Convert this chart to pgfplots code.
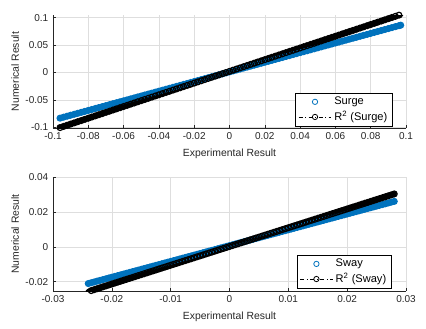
\documentclass[border=0pt]{standalone}
\usepackage{fontspec}
\setmainfont{Liberation Sans}
\usepackage{pgfplots}
\usepackage{pgfplotstable}
\pgfplotsset{compat=1.18}
\definecolor{mblue}{rgb}{0,0.447,0.741}
\definecolor{mgray}{rgb}{0.15,0.15,0.15}
\pgfplotstableread{
x b k
-0.096 -0.08348 -0.10072
-0.094 -0.08172 -0.09858
-0.092 -0.07996 -0.09644
-0.090 -0.0782 -0.0943
-0.088 -0.07644 -0.09216
-0.086 -0.07468 -0.09002
-0.084 -0.07292 -0.08788
-0.082 -0.07116 -0.08574
-0.080 -0.0694 -0.0836
-0.078 -0.06764 -0.08146
-0.076 -0.06588 -0.07932
-0.074 -0.06412 -0.07718
-0.072 -0.06236 -0.07504
-0.070 -0.0606 -0.0729
-0.068 -0.05884 -0.07076
-0.066 -0.05708 -0.06862
-0.064 -0.05532 -0.06648
-0.062 -0.05356 -0.06434
-0.060 -0.0518 -0.0622
-0.058 -0.05004 -0.06006
-0.056 -0.04828 -0.05792
-0.054 -0.04652 -0.05578
-0.052 -0.04476 -0.05364
-0.050 -0.043 -0.0515
-0.048 -0.04124 -0.04936
-0.046 -0.03948 -0.04722
-0.044 -0.03772 -0.04508
-0.042 -0.03596 -0.04294
-0.040 -0.0342 -0.0408
-0.038 -0.03244 -0.03866
-0.036 -0.03068 -0.03652
-0.034 -0.02892 -0.03438
-0.032 -0.02716 -0.03224
-0.030 -0.0254 -0.0301
-0.028 -0.02364 -0.02796
-0.026 -0.02188 -0.02582
-0.024 -0.02012 -0.02368
-0.022 -0.01836 -0.02154
-0.020 -0.0166 -0.0194
-0.018 -0.01484 -0.01726
-0.016 -0.01308 -0.01512
-0.014 -0.01132 -0.01298
-0.012 -0.00956 -0.01084
-0.010 -0.0078 -0.0087
-0.008 -0.00604 -0.00656
-0.006 -0.00428 -0.00442
-0.004 -0.00252 -0.00228
-0.002 -0.00076 -0.00014
0 0.001 0.002
0.002 0.00276 0.00414
0.004 0.00452 0.00628
0.006 0.00628 0.00842
0.008 0.00804 0.01056
0.010 0.0098 0.0127
0.012 0.01156 0.01484
0.014 0.01332 0.01698
0.016 0.01508 0.01912
0.018 0.01684 0.02126
0.020 0.0186 0.0234
0.022 0.02036 0.02554
0.024 0.02212 0.02768
0.026 0.02388 0.02982
0.028 0.02564 0.03196
0.030 0.0274 0.0341
0.032 0.02916 0.03624
0.034 0.03092 0.03838
0.036 0.03268 0.04052
0.038 0.03444 0.04266
0.040 0.0362 0.0448
0.042 0.03796 0.04694
0.044 0.03972 0.04908
0.046 0.04148 0.05122
0.048 0.04324 0.05336
0.050 0.045 0.0555
0.052 0.04676 0.05764
0.054 0.04852 0.05978
0.056 0.05028 0.06192
0.058 0.05204 0.06406
0.060 0.0538 0.0662
0.062 0.05556 0.06834
0.064 0.05732 0.07048
0.066 0.05908 0.07262
0.068 0.06084 0.07476
0.070 0.0626 0.0769
0.072 0.06436 0.07904
0.074 0.06612 0.08118
0.076 0.06788 0.08332
0.078 0.06964 0.08546
0.080 0.0714 0.0876
0.082 0.07316 0.08974
0.084 0.07492 0.09188
0.086 0.07668 0.09402
0.088 0.07844 0.09616
0.090 0.0802 0.0983
0.092 0.08196 0.10044
0.094 0.08372 0.10258
0.096 0.08548 0.10472
0.097 0.08636 0.10579
}\surge
\pgfplotstableread{
x b k
-0.024 -0.02102 -0.0256
-0.0235 -0.02057 -0.02506
-0.023 -0.02012 -0.02453
-0.0225 -0.01966 -0.02399
-0.022 -0.01921 -0.02345
-0.0215 -0.01876 -0.02291
-0.021 -0.01831 -0.02238
-0.0205 -0.01785 -0.02184
-0.020 -0.0174 -0.0213
-0.0195 -0.01695 -0.02076
-0.019 -0.0165 -0.02023
-0.0185 -0.01604 -0.01969
-0.018 -0.01559 -0.01915
-0.0175 -0.01514 -0.01861
-0.017 -0.01469 -0.01808
-0.0165 -0.01423 -0.01754
-0.016 -0.01378 -0.017
-0.0155 -0.01333 -0.01646
-0.015 -0.01288 -0.01593
-0.0145 -0.01242 -0.01539
-0.014 -0.01197 -0.01485
-0.0135 -0.01152 -0.01431
-0.013 -0.01107 -0.01378
-0.0125 -0.01061 -0.01324
-0.012 -0.01016 -0.0127
-0.0115 -0.00971 -0.01216
-0.011 -0.00926 -0.01163
-0.0105 -0.0088 -0.01109
-0.010 -0.00835 -0.01055
-0.0095 -0.0079 -0.01001
-0.009 -0.00745 -0.00948
-0.0085 -0.00699 -0.00894
-0.008 -0.00654 -0.0084
-0.0075 -0.00609 -0.00786
-0.007 -0.00564 -0.00733
-0.0065 -0.00518 -0.00679
-0.006 -0.00473 -0.00625
-0.0055 -0.00428 -0.00571
-0.005 -0.00383 -0.00518
-0.0045 -0.00337 -0.00464
-0.004 -0.00292 -0.0041
-0.0035 -0.00247 -0.00356
-0.003 -0.00202 -0.00303
-0.0025 -0.00156 -0.00249
-0.002 -0.00111 -0.00195
-0.0015 -0.00066 -0.00141
-0.001 -0.00021 -0.00088
-0.0005 0.00025 -0.00034
0 0.0007 0.0002
0.0005 0.00115 0.00074
0.001 0.00161 0.00128
0.0015 0.00206 0.00181
0.002 0.00251 0.00235
0.0025 0.00296 0.00289
0.003 0.00342 0.00343
0.0035 0.00387 0.00396
0.004 0.00432 0.0045
0.0045 0.00477 0.00504
0.005 0.00523 0.00558
0.0055 0.00568 0.00611
0.006 0.00613 0.00665
0.0065 0.00658 0.00719
0.007 0.00704 0.00773
0.0075 0.00749 0.00826
0.008 0.00794 0.0088
0.0085 0.00839 0.00934
0.009 0.00885 0.00988
0.0095 0.0093 0.01041
0.010 0.00975 0.01095
0.0105 0.0102 0.01149
0.011 0.01066 0.01203
0.0115 0.01111 0.01256
0.012 0.01156 0.0131
0.0125 0.01201 0.01364
0.013 0.01247 0.01418
0.0135 0.01292 0.01471
0.014 0.01337 0.01525
0.0145 0.01382 0.01579
0.015 0.01428 0.01633
0.0155 0.01473 0.01686
0.016 0.01518 0.0174
0.0165 0.01563 0.01794
0.017 0.01609 0.01848
0.0175 0.01654 0.01901
0.018 0.01699 0.01955
0.0185 0.01744 0.02009
0.019 0.0179 0.02063
0.0195 0.01835 0.02116
0.020 0.0188 0.0217
0.0205 0.01925 0.02224
0.021 0.01971 0.02278
0.0215 0.02016 0.02331
0.022 0.02061 0.02385
0.0225 0.02106 0.02439
0.023 0.02152 0.02493
0.0235 0.02197 0.02546
0.024 0.02242 0.026
0.0245 0.02287 0.02654
0.025 0.02333 0.02708
0.0255 0.02378 0.02761
0.026 0.02423 0.02815
0.0265 0.02468 0.02869
0.027 0.02514 0.02923
0.0275 0.02559 0.02976
0.028 0.02604 0.0303
}\sway
\pgfplotsset{
  myax/.style={
    scale only axis, width=264.75pt,
    axis x line*=bottom, axis y line*=left,
    axis line style={-, mgray, line width=0.4pt},
    tick align=inside, major tick length=2.5pt,
    tick style={mgray, line width=0.4pt},
    grid=major, major grid style={black!13, line width=0.4pt},
    ticklabel style={font=\fontsize{7.5}{9}\selectfont, text=mgray},
    label style={font=\fontsize{7.8}{9}\selectfont, text=mgray},
    /pgf/number format/assume math mode=true,
    /pgf/number format/fixed, /pgf/number format/precision=3,
    scaled ticks=false,
    xlabel={Experimental Result}, ylabel={Numerical Result},
    ylabel style={yshift=-2pt},
    clip=true,
    legend cell align=left,
    legend style={draw=black, line width=0.5pt, fill=white, font=\fontsize{8.3}{10}\selectfont,
      inner xsep=2pt, inner ysep=1pt, row sep=-0.5pt},
    legend image code/.code={
      \draw[mark repeat=2,mark phase=2,##1] plot coordinates {(0cm,0cm) (0.43cm,0cm) (0.86cm,0cm)};
    },
  },
  bll/.style={mblue, line width=4.2pt, line cap=round, no marks},
  bkl/.style={black, line width=4.0pt, line cap=round, no marks},
  bl/.style={only marks, mark=o, mark size=2.2pt, mblue, mark options={line width=0.9pt}},
  bk/.style={only marks, mark=o, mark size=2.2pt, black, mark options={line width=0.9pt}},
}
\begin{document}
\begin{tikzpicture}
\useasboundingbox (-39.75pt,-150.75pt) rectangle (279.75pt,96pt);
\begin{axis}[myax, at={(0,0)}, anchor=south west, height=84.75pt,
  xmin=-0.1, xmax=0.1, ymin=-0.1015, ymax=0.105,
  xtick={-0.1,-0.08,...,0.1}, ytick={-0.1,-0.05,0,0.05,0.1},
  xticklabels={-0.1,-0.08,-0.06,-0.04,-0.02,0,0.02,0.04,0.06,0.08,0.1},
  legend style={at={(0.963,0.01)}, anchor=south east}]
\addplot[bll, forget plot] table[x=x, y=b] {\surge};
\addplot[bl, forget plot] table[x=x, y=b] {\surge};
\addplot[bkl, forget plot] table[x=x, y=k] {\surge};
\addplot[bk, forget plot] table[x=x, y=k] {\surge};
\addlegendimage{only marks, mark=o, mark size=2pt, mblue, mark options={line width=0.6pt}}
\addlegendentry{Surge}
\addlegendimage{black, dash dot, line width=0.5pt, mark=o, mark size=2pt, mark options={solid, line width=0.6pt}}
\addlegendentry{R\textsuperscript{2} (Surge)}
\end{axis}
\begin{axis}[myax, at={(0,-122.25pt)}, anchor=south west, height=85.5pt,
  xmin=-0.03, xmax=0.03, ymin=-0.0253, ymax=0.04,
  xtick={-0.03,-0.02,-0.01,0,0.01,0.02,0.03}, ytick={-0.02,0,0.02,0.04},
  xticklabels={-0.03,-0.02,-0.01,0,0.01,0.02,0.03},
  yticklabels={-0.02,0,0.02,0.04},
  legend style={at={(0.96,0.018)}, anchor=south east}]
\addplot[bll, forget plot] table[x=x, y=b] {\sway};
\addplot[bl, forget plot] table[x=x, y=b] {\sway};
\addplot[bkl, forget plot] table[x=x, y=k] {\sway};
\addplot[bk, forget plot] table[x=x, y=k] {\sway};
\addlegendimage{only marks, mark=o, mark size=2pt, mblue, mark options={line width=0.6pt}}
\addlegendentry{Sway}
\addlegendimage{black, dash dot, line width=0.5pt, mark=o, mark size=2pt, mark options={solid, line width=0.6pt}}
\addlegendentry{R\textsuperscript{2} (Sway)}
\end{axis}
\end{tikzpicture}
\end{document}
